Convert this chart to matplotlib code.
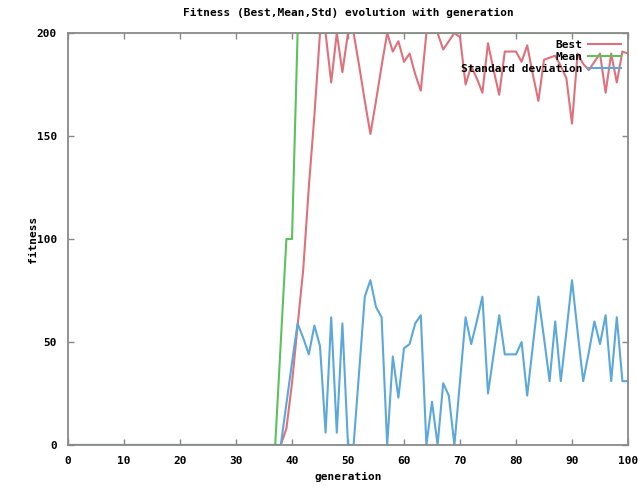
import numpy as np
import matplotlib
matplotlib.use("Agg")
import matplotlib.pyplot as plt

# generations 0..100
generation = np.arange(0, 101)

# Best fitness (0 before gen 38)
best_tail = [0, 8, 30, 58, 85, 125, 160, 200, 200, 176,      # 38-47
             200, 181, 200, 200, 184, 167, 151, 167, 184, 200,  # 48-57
             191, 196, 186, 190, 180, 172, 200, 200, 200, 192,  # 58-67
             196, 200, 198, 175, 184, 178, 171, 195, 182, 170,  # 68-77
             191, 191, 191, 186, 194, 180, 167, 187, 188, 189,  # 78-87
             184, 178, 156, 190, 185, 182, 186, 190, 171, 190,  # 88-97
             176, 191, 190]                                      # 98-100
best = [0] * 38 + best_tail

# Mean fitness (0 before gen 38)
mean_tail = [50, 100, 100] + [200] * 60
mean = [0] * 38 + mean_tail

# Standard deviation (0 before gen 38)
std_tail = [0, 20, 40, 59, 52, 44, 58, 48, 6, 62,        # 38-47
            6, 59, 0, 0, 36, 72, 80, 67, 62, 0,          # 48-57
            43, 23, 47, 49, 59, 63, 0, 21, 0, 30,        # 58-67
            24, 0, 31, 62, 49, 60, 72, 25, 44, 63,       # 68-77
            44, 44, 44, 50, 24, 48, 72, 52, 31, 60,      # 78-87
            31, 55, 80, 55, 31, 45, 60, 49, 63, 31,      # 88-97
            62, 31, 31]                                   # 98-100
std = [0] * 38 + std_tail

mono = {'family': 'DejaVu Sans Mono', 'weight': 'bold', 'size': 8}

fig = plt.figure(figsize=(6.38, 4.86), dpi=100)
ax = fig.add_axes([68/638, 1 - 445/486, 560/638, 412/486])

ax.plot(generation, best, color='#e0707a', lw=1.5, label='Best')
ax.plot(generation, mean, color='#5cc25c', lw=1.5, label='Mean')
ax.plot(generation, std, color='#5aa8dc', lw=1.5, label='Standard deviation')

ax.set_xlim(0, 100)
ax.set_ylim(0, 200)
ax.set_xticks(range(0, 101, 10))
ax.set_yticks(range(0, 201, 50))
ax.tick_params(direction='in', length=4, width=1, color='#888888',
               top=True, right=True, pad=8)
for lab in ax.get_xticklabels() + ax.get_yticklabels():
    lab.set_fontproperties(mono)
for sp in ax.spines.values():
    sp.set_color('#8a8a8a')
    sp.set_linewidth(1.3)
    sp.set_zorder(3)

ax.set_title('Fitness (Best,Mean,Std) evolution with generation',
             fontdict=mono, pad=12)
ax.set_xlabel('generation', fontdict=mono, labelpad=4)
ax.set_ylabel('fitness', fontdict=mono, labelpad=-1)

# markerfirst=False puts the sample after the text, rows right-aligned
ax.legend(loc='upper right', frameon=False, markerfirst=False,
          prop=mono, handlelength=3, borderaxespad=0.3,
          labelspacing=0.2, handletextpad=0.5, borderpad=0.3)

fig.savefig('out.png', dpi=100)
